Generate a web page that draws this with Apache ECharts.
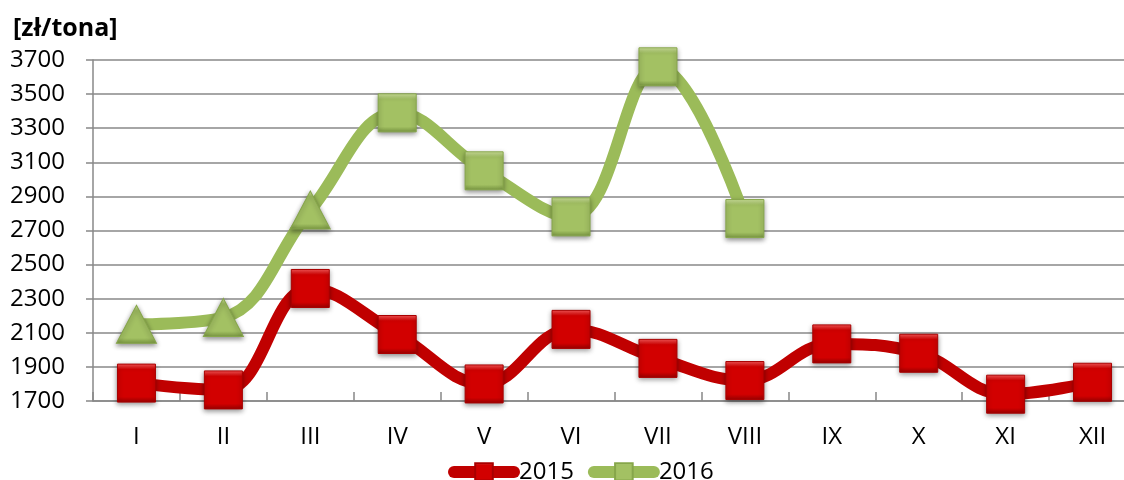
<!DOCTYPE html>
<html>
<head>
<meta charset="utf-8">
<script src="https://cdn.jsdelivr.net/npm/echarts@6/dist/echarts.min.js"></script>
<style>
html,body{margin:0;padding:0;background:#fff;overflow:hidden;width:1124px;height:480px;}
#c{width:1140px;height:480px;}
</style>
</head>
<body>
<div id="c"></div>
<script>
var categories = ['I','II','III','IV','V','VI','VII','VIII','IX','X','XI','XII'];
var values2015 = [1805, 1765, 2360, 2090, 1800, 2120, 1950, 1820, 2035, 1980, 1740, 1810];
var values2016 = [2150, 2190, 2820, 3390, 3050, 2780, 3660, 2770];
var triangleMonths = ['I','II','III'];
var yTicks = {min: 1700, max: 3700, step: 200};
var unitLabel = '[zł/tona]';

var FONT = 'Open Sans';

function grad(top, mid, bottom) {
  return new echarts.graphic.LinearGradient(0, 0, 0, 1, [
    {offset: 0, color: top},
    {offset: 0.15, color: mid},
    {offset: 0.85, color: mid},
    {offset: 1, color: bottom}
  ]);
}
var redFill = grad('#ff5a5a', '#d20000', '#9a0000');
var greenFill = grad('#d2e6a0', '#a3c163', '#7a9842');

var data2016 = values2016.map(function (v, i) {
  var o = {value: v};
  if (triangleMonths.indexOf(categories[i]) >= 0) {
    o.symbol = 'triangle';
    o.symbolSize = [40, 38];
  }
  return o;
});

var chart = echarts.init(document.getElementById('c'), null, {renderer: 'canvas'});
chart.setOption({
  animation: false,
  backgroundColor: '#fff',
  title: {
    text: unitLabel,
    left: 8, top: 11,
    textStyle: {fontFamily: FONT, fontSize: 25, fontWeight: 'bold', color: '#000'}
  },
  grid: {left: 93, top: 60, width: 1043, height: 341, containLabel: false},
  legend: {
    left: 443, top: 455,
    itemWidth: 60, itemHeight: 22, itemGap: 14,
    lineStyle: {width: 12, cap: 'round'},
    textStyle: {fontFamily: FONT, fontSize: 24, color: '#000'},
    data: ['2015', '2016']
  },
  xAxis: {
    type: 'category',
    data: categories,
    boundaryGap: true,
    axisLine: {lineStyle: {color: '#888', width: 1.5}},
    axisTick: {show: true, inside: true, length: 9, lineStyle: {color: '#888', width: 1.5}},
    axisLabel: {fontFamily: FONT, fontSize: 24, color: '#000', margin: 24}
  },
  yAxis: {
    type: 'value',
    min: yTicks.min, max: yTicks.max, interval: yTicks.step,
    axisLine: {show: true, lineStyle: {color: '#888', width: 1.5}},
    axisTick: {show: true, length: 7, lineStyle: {color: '#888', width: 1.5}},
    splitLine: {lineStyle: {color: '#888', width: 1.5}},
    axisLabel: {fontFamily: FONT, fontSize: 24, color: '#000', margin: 28,
      formatter: function (v) { return String(v); }}
  },
  series: [
    {
      name: '2015', type: 'line', smooth: 0.4,
      data: values2015,
      symbol: 'rect', symbolSize: 38,
      lineStyle: {color: '#c00000', width: 12},
      itemStyle: {color: redFill, borderColor: '#a80000', borderWidth: 1,
        shadowColor: 'rgba(0,0,0,0.45)', shadowBlur: 5, shadowOffsetY: 2},
      z: 2
    },
    {
      name: '2016', type: 'line', smooth: 0.4,
      data: data2016,
      symbol: 'rect', symbolSize: 38,
      lineStyle: {color: '#9bbb59', width: 12},
      itemStyle: {color: greenFill, borderColor: '#86a64a', borderWidth: 1,
        shadowColor: 'rgba(0,0,0,0.45)', shadowBlur: 5, shadowOffsetY: 2},
      z: 3
    }
  ]
});
</script>
</body>
</html>
